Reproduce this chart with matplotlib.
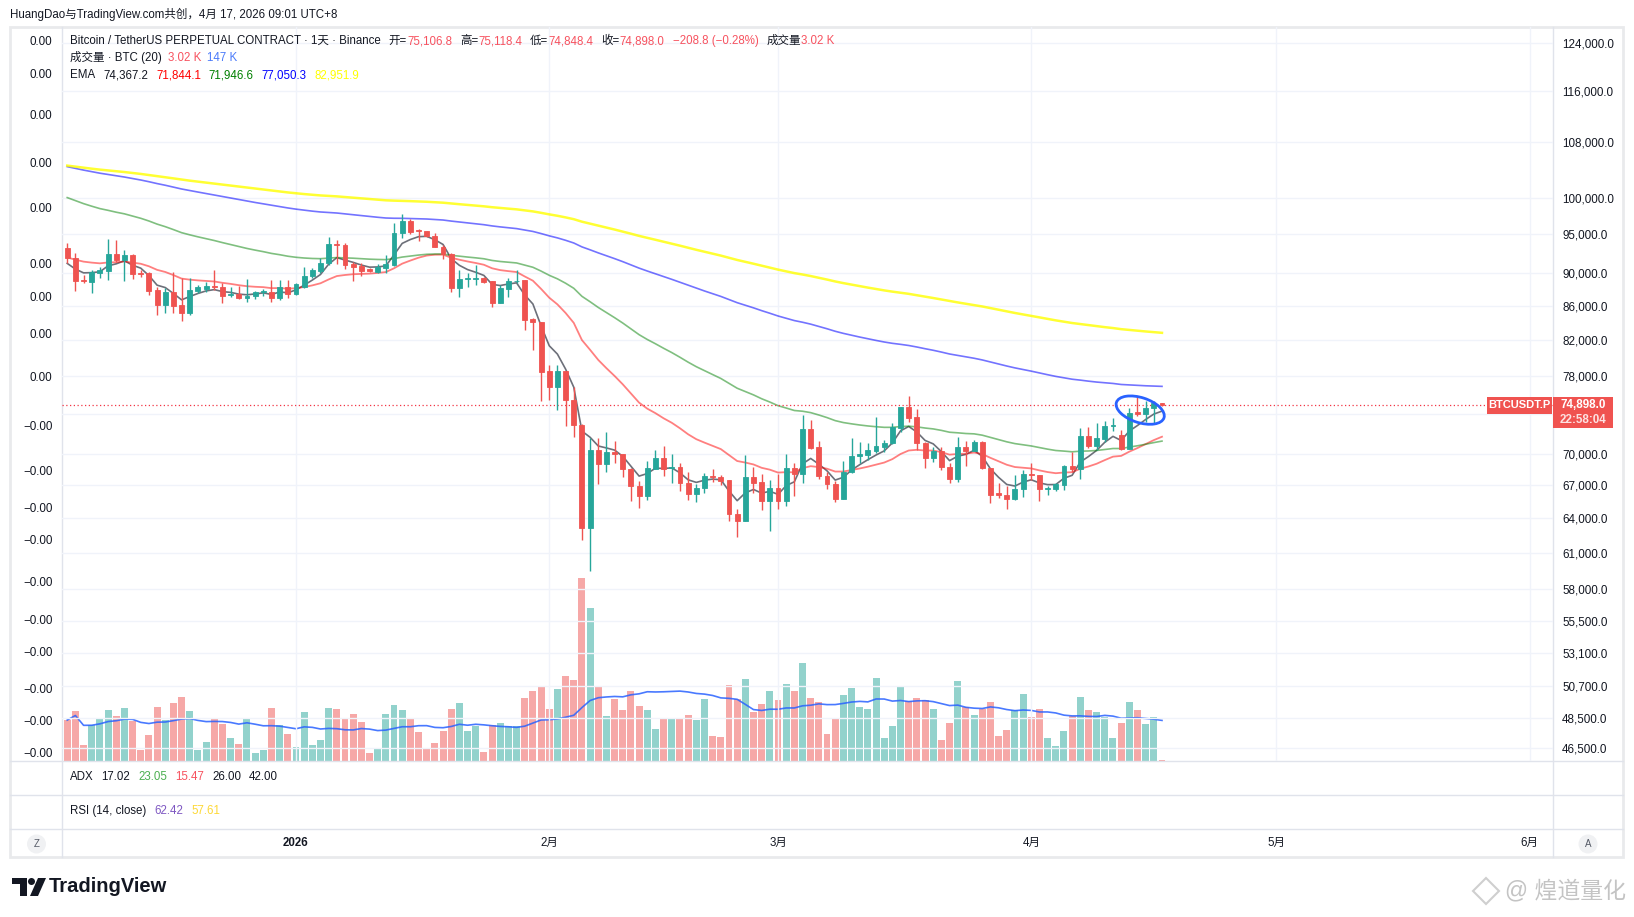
import numpy as np
import pandas as pd
import matplotlib
matplotlib.use("Agg")
import matplotlib.pyplot as plt
import matplotlib.dates as mdates
from matplotlib.patches import Rectangle, Ellipse, Circle, Polygon
from matplotlib.lines import Line2D
from matplotlib.ticker import FixedLocator, NullLocator, FuncFormatter
from matplotlib.transforms import ScaledTranslation, blended_transform_factory

plt.rcParams['font.family'] = ['Liberation Sans', 'Noto Sans CJK SC', 'DejaVu Sans']

# ---- data (BTCUSDT.P daily) ----
DATES = pd.date_range('2025-12-04', '2026-04-17', freq='D')

OPEN = [93200, 91900, 89200, 88950, 90100, 90350, 92450, 91700, 92350, 90000,
        90000, 87950, 86150, 87650, 86100, 85150, 87850, 88100, 88400, 88350,
        87300, 87450, 87000, 87150, 87700, 87750, 87000, 88300, 87400, 88350,
        89650, 90350, 91250, 93750, 93650, 91150, 90900, 90500, 90200, 90650,
        91050, 95150, 96850, 95550, 95400, 94850, 93400, 92450, 88200, 89300,
        89350, 89450, 89050, 86400, 88100, 89000, 89150, 84450, 84050, 78550,
        76800, 78550, 75500, 72900, 63150, 70400, 69050, 70200, 69950, 68550,
        66950, 66000, 68550, 69650, 68600, 68700, 67250, 66200, 66800, 67850,
        67750, 67500, 64400, 63800, 67750, 67300, 65600, 66800, 65600, 68600,
        68050, 72450, 70650, 67900, 67100, 65750, 68250, 69750, 69900, 70300,
        70700, 71050, 72600, 74700, 73650, 71050, 69650, 70300, 68700, 67600,
        70650, 70300, 71150, 68600, 66250, 66150, 65750, 66650, 68050, 67950,
        66650, 66700, 67050, 68850, 68500, 71750, 70800, 71500, 72800, 71900,
        70500, 74200, 73950, 74650, 75106.8]
HIGH = [93850, 92550, 89800, 90400, 90850, 94350, 94300, 93000, 92450, 90400,
        90200, 88350, 88150, 90200, 89400, 89400, 88550, 88950, 90400, 88750,
        88350, 88450, 89250, 87850, 88000, 89150, 89150, 89150, 88750, 90750,
        90650, 91900, 94700, 94300, 93850, 91450, 91250, 90650, 91200, 92350,
        96550, 97750, 97050, 95700, 95450, 95250, 93650, 92550, 90400, 90100,
        91050, 89550, 89100, 88550, 89400, 90400, 89200, 84550, 84100, 79200,
        79200, 78600, 76850, 73000, 71550, 71550, 72200, 71250, 70000, 68600,
        67400, 69350, 70400, 70800, 70000, 69100, 68300, 67100, 68200, 68500,
        68000, 67550, 64800, 69900, 68700, 68050, 67500, 68050, 70000, 69100,
        73900, 73400, 71250, 68300, 67400, 69300, 71550, 71150, 71050, 73650,
        71350, 73050, 74750, 75900, 74500, 71200, 70700, 70700, 69100, 71650,
        71300, 71350, 71250, 68650, 67200, 66900, 68000, 68450, 69100, 68000,
        66900, 67200, 68950, 70200, 72600, 72700, 73050, 73300, 73550, 72350,
        74600, 75900, 75300, 75400, 75118.4]
LOW = [91350, 87850, 88750, 87600, 89400, 89150, 91450, 89100, 89250, 89550,
       87300, 84950, 85150, 85150, 84250, 84950, 87550, 87700, 87950, 86400,
       87100, 86800, 86500, 86900, 87200, 86500, 86750, 87000, 87300, 88200,
       89400, 90000, 91050, 91200, 90550, 89100, 89700, 90200, 90100, 90100,
       90900, 94500, 95000, 94200, 94700, 93350, 91800, 87750, 87100, 88350,
       88500, 88850, 85900, 86350, 87100, 88750, 83200, 80900, 75350, 75450,
       74400, 72800, 71700, 62100, 59500, 67150, 68300, 69100, 67800, 65600,
       64950, 65650, 68500, 67900, 67200, 66500, 65650, 65500, 66300, 67350,
       67050, 63800, 62350, 63750, 66300, 64750, 62900, 64800, 65100, 66050,
       67200, 70500, 67600, 66700, 65500, 65700, 68200, 69100, 69400, 70100,
       70200, 70950, 72200, 73200, 70400, 68600, 69250, 68450, 67200, 67300,
       68850, 70250, 68500, 65400, 65800, 64800, 65650, 65900, 67500, 65600,
       66100, 66450, 66550, 68300, 67600, 70600, 70400, 71200, 72300, 70400,
       70450, 73800, 73150, 73100, 74848.4]
CLOSE = [91900, 89100, 89100, 90150, 90400, 92450, 91700, 92350, 89900, 89900,
         87850, 86150, 87650, 86050, 85200, 87950, 88250, 88450, 88300, 87250,
         87450, 87000, 87200, 87650, 87850, 87000, 88300, 87400, 88650, 89700,
         90400, 91250, 93750, 93650, 91050, 90800, 90350, 90250, 90850, 91200,
         95150, 96800, 95350, 95450, 94850, 93400, 92450, 88200, 89300, 89400,
         89450, 88950, 86400, 88200, 89050, 89100, 84350, 84050, 78500, 76800,
         78550, 75450, 72900, 63150, 70400, 69050, 70200, 69950, 68550, 66900,
         66000, 68600, 69650, 68550, 68750, 67250, 66200, 66800, 67900, 67800,
         67400, 64400, 63800, 67750, 67250, 65600, 66800, 65600, 68600, 68050,
         72450, 70600, 67900, 67100, 65750, 68300, 69800, 70000, 70400, 70800,
         71100, 72650, 74700, 73600, 71050, 69650, 70300, 68700, 67600, 70650,
         70300, 71150, 68600, 66150, 66150, 65750, 66650, 68050, 67950, 66650,
         66750, 67100, 68850, 68500, 71750, 70800, 71550, 72750, 72900, 70500,
         74150, 73950, 74650, 75107, 74898.0]
VOLUME = [148, 181, 58, 130, 155, 184, 164, 192, 145, 40,
          94, 195, 148, 210, 231, 181, 40, 69, 155, 134,
          83, 61, 152, 29, 40, 192, 130, 98, 51, 177,
          58, 76, 192, 188, 152, 170, 141, 29, 47, 170,
          202, 184, 152, 105, 43, 65, 108, 188, 210, 108,
          127, 33, 130, 137, 127, 127, 228, 253, 271, 188,
          260, 307, 293, 662, 553, 268, 163, 224, 183, 255,
          198, 183, 114, 151, 151, 151, 165, 147, 223, 89,
          86, 274, 223, 295, 176, 205, 255, 219, 277, 255,
          353, 227, 212, 96, 154, 237, 263, 194, 187, 299,
          82, 125, 266, 216, 227, 219, 187, 75, 136, 288,
          194, 165, 187, 212, 89, 111, 183, 241, 158, 187,
          82, 53, 107, 161, 230, 183, 176, 158, 82, 136,
          212, 183, 133, 158, 3.02]  # thousand BTC

EMA_PERIODS = [5, 20, 50, 120, 200]
EMA_SEEDS = [91250, 92000, 100000, 104400, 104550]   # EMA value at first candle
EMA_COLORS = ['#5d606b', '#ff0000', '#008000', '#0000ff', '#ffff00']
EMA_ALPHA = [0.9, 0.5, 0.5, 0.55, 0.8]
EMA_LW = [1.2, 1.3, 1.2, 1.2, 1.8]

PRICE_TICKS = [124000, 116000, 108000, 100000, 95000, 90000, 86000, 82000, 78000, 74000,
               70000, 67000, 64000, 61000, 58000, 55500, 53100, 50700, 48500, 46500]
HIDDEN_TICK = 74000   # its label sits under the last-price box
LEFT_TICKS = [124500, 118900, 112200, 105000, 98600, 91300, 87200, 82800, 78000, 72800,
              68450, 65000, 62100, 58600, 55600, 53200, 50500, 48300, 46200]
LEFT_LABELS = ['0.00'] * 9 + ['\u22120.00'] * 10
MONTHS = ['2026-01-01', '2026-02-01', '2026-03-01', '2026-04-01', '2026-05-01', '2026-06-01']
MONTH_LABELS = ['2026', '2月', '3月', '4月', '5月', '6月']

UP, DOWN = '#26a69a', '#ef5350'
INK = '#131722'
RED_TXT = '#f7525f'
LINE = '#e0e3eb'

W, H = 1634, 917
fig = plt.figure(figsize=(W / 100, H / 100), dpi=100)
fig.patch.set_facecolor('white')


def fx(x):
    return x / W


def fy(y):
    return 1 - y / H


xs = mdates.date2num(DATES)
jan1 = mdates.date2num(pd.Timestamp('2026-01-01'))
XLIM = (jan1 - 28.64, jan1 + 153.86)
YLIM = (45660, 126790)
o, h, l, c = map(np.array, (OPEN, HIGH, LOW, CLOSE))
vol = np.array(VOLUME)
up = c >= o
cols = np.where(up, UP, DOWN)
month_x = mdates.date2num(pd.to_datetime(MONTHS))

# ---- main price pane ----
ax = fig.add_axes([fx(62), fy(761), fx(1553) - fx(62), fy(27) - fy(761)])
axv = ax.twinx()
axl = ax.twinx()
ax.set_zorder(3)
axv.set_zorder(1)
axl.set_zorder(4)
ax.patch.set_visible(False)
axl.patch.set_visible(False)

ax.set_yscale('log')
ax.set_xlim(*XLIM)
ax.set_ylim(*YLIM)
ax.yaxis.set_major_locator(FixedLocator(PRICE_TICKS))
ax.yaxis.set_minor_locator(NullLocator())
ax.yaxis.set_major_formatter(FuncFormatter(lambda v, p: '' if v == HIDDEN_TICK else f'{v:,.1f}'))
ax.set_xticks(month_x)
ax.tick_params(axis='x', length=0, labelbottom=False)
ax.grid(True, color='#f0f3fa', lw=1)
for s in ax.spines.values():
    s.set_visible(False)

# volume on its own scale behind the candles
axv.set_ylim(0, 2655)
axv.bar(xs, vol, width=0.85, color=cols, alpha=0.5, lw=0)
vol_ma = pd.Series(vol).rolling(20, min_periods=1).mean()
axv.plot(xs, vol_ma, color='#2962ff', lw=1.2, alpha=0.85)
axv.set_yticks([])
for s in axv.spines.values():
    s.set_visible(False)

# EMAs
for per, seed, col, al, lw in zip(EMA_PERIODS, EMA_SEEDS, EMA_COLORS, EMA_ALPHA, EMA_LW):
    a = 2 / (per + 1)
    e = [seed]
    for v in CLOSE[1:]:
        e.append(e[-1] + a * (v - e[-1]))
    ax.plot(xs, e, color=col, alpha=al, lw=lw, zorder=2)

# candles
ax.vlines(xs, l, h, color=cols, lw=1, zorder=4)
ax.bar(xs, np.abs(c - o), bottom=np.minimum(o, c), width=0.6, color=cols,
       edgecolor=cols, lw=0.6, zorder=5)

# left scale labels
axl.set_yscale('log')
axl.set_ylim(*YLIM)
axl.yaxis.set_major_locator(FixedLocator(LEFT_TICKS))
axl.yaxis.set_minor_locator(NullLocator())
axl.set_yticklabels(LEFT_LABELS)
for s in axl.spines.values():
    s.set_visible(False)

# put price labels right, the other scale left (after all twinx calls)
ax.yaxis.tick_right()
ax.tick_params(axis='y', which='both', length=0, pad=6.5, labelsize=8.4, labelcolor=INK,
               labelleft=False, labelright=True)
axl.yaxis.tick_left()
axl.tick_params(axis='y', which='both', length=0, pad=7, labelsize=8.4, labelcolor=INK,
                labelleft=True, labelright=False)

# last price line and labels
last = CLOSE[-1]
ax.axhline(last, color='#f23645', ls=(0, (1, 2)), lw=0.9, zorder=3)
bt = blended_transform_factory(ax.transAxes, ax.transData)
anchor = ScaledTranslation(1.0, last, bt)
fig.add_artist(Rectangle((0, -0.23), 0.60, 0.31, transform=fig.dpi_scale_trans + anchor,
                         facecolor='#f05350', edgecolor='none', zorder=10))
fig.add_artist(Rectangle((-0.66, -0.09), 0.65, 0.17, transform=fig.dpi_scale_trans + anchor,
                         facecolor='#f05350', edgecolor='none', zorder=10))
fig.text(0.30, 0.0, f'{last:,.1f}', transform=fig.dpi_scale_trans + anchor, color='white',
         fontsize=8.4, fontweight='bold', ha='center', va='center', zorder=11)
fig.text(0.30, -0.15, '22:58:04', transform=fig.dpi_scale_trans + anchor, color='#fde2e2',
         fontsize=8.4, fontweight='bold', ha='center', va='center', zorder=11)
fig.text(-0.335, 0.0, 'BTCUSDT.P', transform=fig.dpi_scale_trans + anchor, color='white',
         fontsize=8, fontweight='bold', ha='center', va='center', zorder=11)

# hand drawn ellipse around last candles
ell_c = ScaledTranslation(mdates.date2num(pd.Timestamp('2026-04-14 08:00')), 74400, ax.transData)
ax.add_artist(Ellipse((0, 0), 0.50, 0.25, angle=-18, transform=fig.dpi_scale_trans + ell_c,
                      fill=False, edgecolor='#2962ff', lw=2, zorder=7, clip_on=False))

# ---- time axis ----
axt = fig.add_axes([fx(62), fy(857), fx(1553) - fx(62), fy(829) - fy(857)])
axt.set_xlim(*XLIM)
axt.set_ylim(0, 1)
axt.axis('off')
for mx, lab in zip(month_x, MONTH_LABELS):
    axt.text(mx, 0.5, lab, ha='center', va='center', fontsize=8.3, color=INK,
             fontweight='bold' if lab == '2026' else 'normal')

# ---- frame and separators ----
fig.add_artist(Rectangle((fx(10), fy(857)), fx(1623) - fx(10), fy(27) - fy(857),
                         transform=fig.transFigure, fill=False, edgecolor='#e9eaec', lw=2))
for yy in (761, 795, 829):
    fig.add_artist(Line2D([fx(10), fx(1623)], [fy(yy), fy(yy)], color=LINE, lw=1))
for xx in (62, 1553):
    fig.add_artist(Line2D([fx(xx), fx(xx)], [fy(27), fy(857)], color=LINE, lw=1))
for cx, lab in ((36.5, 'Z'), (1588, 'A')):
    fig.add_artist(Circle((cx / 100, (H - 844) / 100), 0.095, transform=fig.dpi_scale_trans,
                          facecolor='#f0f1f3', edgecolor='none'))
    fig.text(fx(cx), fy(844), lab, ha='center', va='center', fontsize=7, color='#555a66')

# ---- texts ----
renderer = fig.canvas.get_renderer()


def put_row(x, y, segs, size=8.3):
    # segs: (text, colour, gap in px before it)
    for s, col, gap in segs:
        x += gap
        t = fig.text(fx(x), fy(y), s, color=col, fontsize=size, ha='left', va='center')
        x += t.get_window_extent(renderer).width


fig.text(fx(9.5), fy(14), 'HuangDao与TradingView.com共创，4月 17, 2026 09:01 UTC+8',
         fontsize=8.3, color=INK, va='center')
put_row(70, 41, [('Bitcoin / TetherUS PERPETUAL CONTRACT · 1天 · Binance', INK, 0),
                 ('开=', INK, 8), ('75,106.8', RED_TXT, 0),
                 ('高=', INK, 8), ('75,118.4', RED_TXT, 0),
                 ('低=', INK, 8), ('74,848.4', RED_TXT, 0),
                 ('收=', INK, 8), ('74,898.0', RED_TXT, 0),
                 ('\u2212208.8 (\u22120.28%)', RED_TXT, 8),
                 ('成交量', INK, 8), ('3.02 K', RED_TXT, 0)])
put_row(70, 58, [('成交量 · BTC (20)', INK, 0), ('3.02 K', RED_TXT, 6), ('147 K', '#4b7bfa', 6)])
put_row(70, 75, [('EMA', INK, 0), ('74,367.2', INK, 8), ('71,844.1', '#ff0000', 8),
                 ('71,946.6', '#008000', 8), ('77,050.3', '#0000ff', 8),
                 ('82,951.9', '#ffff00', 8)])
put_row(70, 777, [('ADX', INK, 0), ('17.02', INK, 8), ('23.05', '#4caf50', 8),
                  ('15.47', RED_TXT, 8), ('26.00', INK, 8), ('42.00', INK, 8)])
put_row(70, 811, [('RSI (14, close)', INK, 0), ('62.42', '#7e57c2', 8), ('57.61', '#fdd835', 8)])

# TradingView logo
px_tr = fig.dpi_scale_trans
for poly in ([(12, 878), (27, 878), (27, 896), (20, 896), (20, 884), (12, 884)],
             [(38, 878), (46, 878), (38, 896), (30, 896)]):
    fig.add_artist(Polygon([(a / 100, (H - b) / 100) for a, b in poly], closed=True,
                           transform=px_tr, facecolor='#131722', edgecolor='none'))
fig.add_artist(Circle((31.5 / 100, (H - 881.5) / 100), 0.035, transform=px_tr,
                      facecolor='#131722', edgecolor='none'))
fig.text(fx(49), fy(887), 'TradingView', fontsize=14.5, fontweight='bold', color='#131722',
         va='center', ha='left')

# watermark
fig.add_artist(Polygon([(a / 100, (H - b) / 100) for a, b in
                        [(1486, 878), (1499, 891), (1486, 904), (1473, 891)]],
                       closed=True, transform=px_tr, fill=False, edgecolor='#cfcfcf', lw=1.5))
fig.text(fx(1505), fy(891), '@ 煌道量化', fontsize=16.5, color='#c4c4c4', va='center', ha='left')

fig.savefig('out.png', dpi=100)
